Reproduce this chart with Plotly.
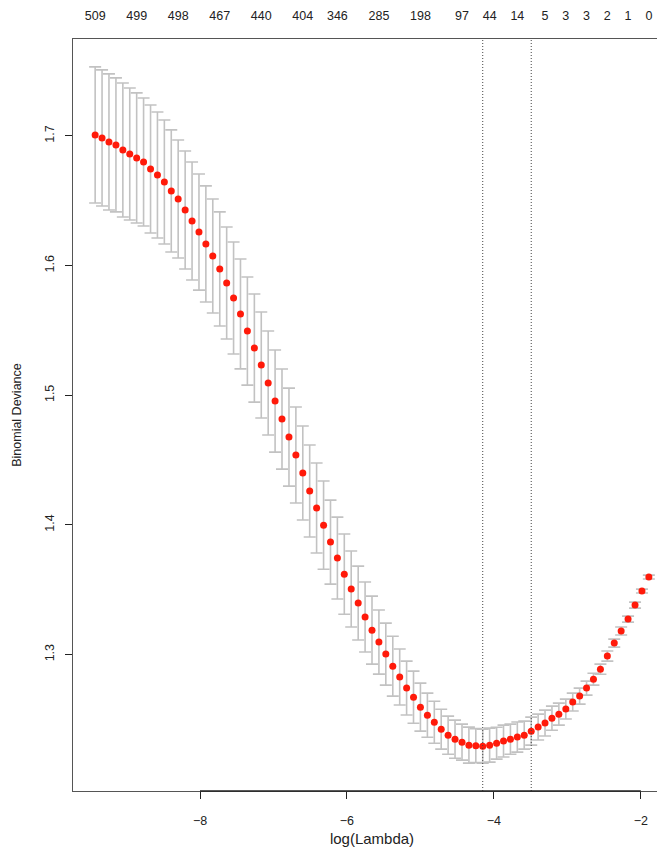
import plotly.graph_objects as go

#-------------------------------------------------------------------------------
#    Data
#-------------------------------------------------------------------------------
log_lambda = [
    -9.427, -9.333, -9.239, -9.144, -9.050, -8.956, -8.862, -8.768, -8.673, -8.579,
    -8.485, -8.391, -8.297, -8.202, -8.108, -8.014, -7.920, -7.826, -7.731, -7.637,
    -7.543, -7.449, -7.355, -7.260, -7.166, -7.072, -6.978, -6.884, -6.789, -6.695,
    -6.601, -6.507, -6.413, -6.318, -6.224, -6.130, -6.036, -5.942, -5.847, -5.753,
    -5.659, -5.565, -5.471, -5.376, -5.282, -5.188, -5.094, -5.000, -4.905, -4.811,
    -4.717, -4.623, -4.529, -4.434, -4.340, -4.246, -4.152, -4.058, -3.963, -3.869,
    -3.775, -3.681, -3.587, -3.492, -3.398, -3.304, -3.210, -3.116, -3.021, -2.927,
    -2.833, -2.739, -2.645, -2.550, -2.456, -2.362, -2.268, -2.174, -2.079, -1.985,
    -1.891,
]
deviance = [
    1.7008, 1.6985, 1.6954, 1.6931, 1.6892, 1.6861, 1.6830, 1.6799, 1.6745, 1.6699,
    1.6645, 1.6576, 1.6514, 1.6429, 1.6344, 1.6259, 1.6167, 1.6074, 1.5974, 1.5866,
    1.5750, 1.5627, 1.5495, 1.5364, 1.5233, 1.5094, 1.4955, 1.4816, 1.4677, 1.4539,
    1.4400, 1.4261, 1.4130, 1.3998, 1.3867, 1.3744, 1.3620, 1.3505, 1.3397, 1.3289,
    1.3188, 1.3096, 1.3003, 1.2910, 1.2826, 1.2741, 1.2671, 1.2594, 1.2532, 1.2478,
    1.2424, 1.2378, 1.2347, 1.2324, 1.2301, 1.2297, 1.2293, 1.2301, 1.2316, 1.2332,
    1.2347, 1.2363, 1.2378, 1.2409, 1.2440, 1.2471, 1.2509, 1.2540, 1.2579, 1.2633,
    1.2679, 1.2741, 1.2810, 1.2887, 1.2988, 1.3088, 1.3181, 1.3273, 1.3381, 1.3489,
    1.3597,
]
std_err = [
    0.0525, 0.0525, 0.0525, 0.0517, 0.0517, 0.0509, 0.0502, 0.0494, 0.0494, 0.0486,
    0.0478, 0.0471, 0.0455, 0.0455, 0.0455, 0.0448, 0.0448, 0.0440, 0.0440, 0.0432,
    0.0432, 0.0424, 0.0417, 0.0417, 0.0409, 0.0401, 0.0394, 0.0386, 0.0378, 0.0370,
    0.0363, 0.0355, 0.0347, 0.0340, 0.0324, 0.0316, 0.0309, 0.0293, 0.0285, 0.0270,
    0.0262, 0.0247, 0.0239, 0.0231, 0.0216, 0.0208, 0.0201, 0.0185, 0.0170, 0.0162,
    0.0154, 0.0147, 0.0147, 0.0139, 0.0139, 0.0131, 0.0131, 0.0131, 0.0123, 0.0123,
    0.0116, 0.0116, 0.0108, 0.0108, 0.0100, 0.0100, 0.0093, 0.0085, 0.0077, 0.0069,
    0.0062, 0.0054, 0.0046, 0.0039, 0.0039, 0.0031, 0.0031, 0.0023, 0.0023, 0.0015,
    0.0015,
]
# number of nonzero coefficients shown on the top axis (only the ones R kept)
nz_index = [0, 6, 12, 18, 24, 30, 35, 41, 47, 53, 57, 61, 65, 68, 71, 74, 77, 80]
nz_label = ['509', '499', '498', '467', '440', '404', '346', '285', '198',
            '97', '44', '14', '5', '3', '3', '2', '1', '0']
lambda_min_index = 56
lambda_1se_index = 63

x_ticks = [-8, -6, -4, -2]
y_ticks = [1.3, 1.4, 1.5, 1.6, 1.7]

#-------------------------------------------------------------------------------
#    Axis ranges the R way (4% padding on the data extent)
#-------------------------------------------------------------------------------
upper = [d + s for d, s in zip(deviance, std_err)]
lower = [d - s for d, s in zip(deviance, std_err)]
x_lo, x_hi = min(log_lambda), max(log_lambda)
y_lo, y_hi = min(lower), max(upper)
x_range = [x_lo - 0.04 * (x_hi - x_lo), x_hi + 0.04 * (x_hi - x_lo)]
y_range = [y_lo - 0.04 * (y_hi - y_lo), y_hi + 0.04 * (y_hi - y_lo)]

font = dict(family='Liberation Sans, Arial, sans-serif', size=12.5, color='#222')

fig = go.Figure()
fig.add_trace(go.Scatter(
    x=log_lambda, y=deviance, mode='markers',
    marker=dict(color='#ff1a0a', size=7),
    error_y=dict(type='data', array=std_err, visible=True,
                 color='#c2c2c2', thickness=1.6, width=6),
    showlegend=False,
))
# invisible copy so the top axis exists
fig.add_trace(go.Scatter(
    x=log_lambda, y=deviance, xaxis='x2', mode='markers',
    marker=dict(opacity=0), showlegend=False, hoverinfo='skip',
))

# dotted lines at lambda.min and lambda.1se
for i in (lambda_min_index, lambda_1se_index):
    fig.add_shape(type='line', xref='x', yref='paper',
                  x0=log_lambda[i], x1=log_lambda[i], y0=0, y1=1,
                  line=dict(color='#444', width=1, dash='1px,2px'))

# R draws the axis line only between the first and last tick
fig.add_shape(type='line', xref='x', yref='paper', x0=x_ticks[0], x1=x_ticks[-1],
              y0=0, y1=0, line=dict(color='#222', width=1.5))

# y title placed by hand so it sits at the far left like R's
fig.add_annotation(text='Binomial Deviance', xref='paper', yref='paper',
                   x=-0.094, y=0.5, xanchor='center', yanchor='middle',
                   textangle=-90, showarrow=False, font=font)

fig.update_layout(
    width=665, height=850,
    margin=dict(l=65, r=2, t=31, b=67),
    paper_bgcolor='white', plot_bgcolor='white',
    font=font,
    xaxis=dict(
        range=x_range, tickvals=x_ticks, ticks='outside', ticklen=7,
        tickcolor='#222', showgrid=False, zeroline=False, automargin=False,
        showline=True, mirror=True, linecolor='#555', linewidth=1.2,
        ticklabelstandoff=11,
        title=dict(text='log(Lambda)', standoff=6),
    ),
    xaxis2=dict(
        range=x_range, overlaying='x', side='top', showgrid=False,
        zeroline=False, showline=False, automargin=False,
        tickvals=[log_lambda[i] for i in nz_index], ticktext=nz_label,
        ticks='outside', ticklen=13, tickcolor='rgba(0,0,0,0)',
    ),
    yaxis=dict(
        range=y_range, tickvals=y_ticks, ticks='outside', ticklen=7,
        tickcolor='#222', tickangle=-90, showgrid=False, zeroline=False,
        showline=True, mirror=True, linecolor='#555', linewidth=1.2,
        automargin=False, ticklabelstandoff=6,
    ),
)
fig.write_html('out.html')
